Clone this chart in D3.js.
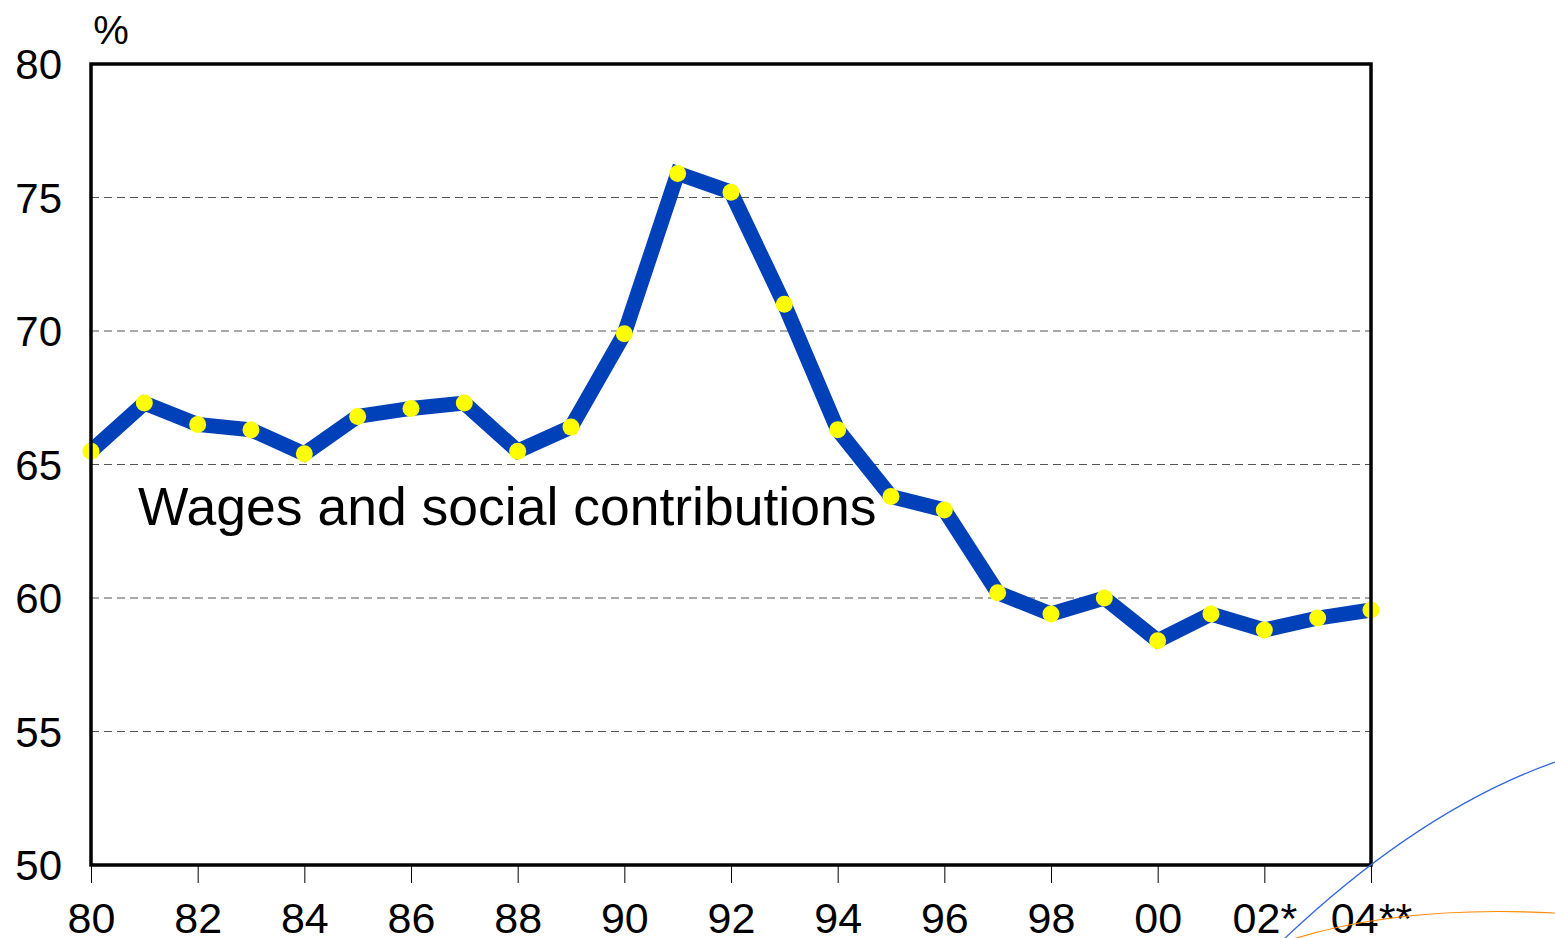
<!DOCTYPE html>
<html>
<head>
<meta charset="utf-8">
<script src="https://cdn.jsdelivr.net/npm/d3@7"></script>
<style>
  body { margin: 0; background: #fff; }
  svg { display: block; font-family: "Liberation Sans", Arial, sans-serif; }
</style>
</head>
<body>
<svg width="1555" height="938"></svg>
<script>
// data
const years = d3.range(1980, 2005);
const wageShare = [65.5, 67.3, 66.5, 66.3, 65.4, 66.8, 67.1, 67.3, 65.5, 66.4,
                   69.9, 75.9, 75.2, 71.0, 66.3, 63.8, 63.3, 60.2, 59.4, 60.0,
                   58.4, 59.4, 58.8, 59.25, 59.55];
const yTicks = [50, 55, 60, 65, 70, 75, 80];
const xTickYears = d3.range(1980, 2005, 2);
const xTickLabels = ["80", "82", "84", "86", "88", "90", "92", "94", "96", "98", "00", "02*", "04**"];
const seriesLabel = "Wages and social contributions";

const margin = { top: 64, left: 91 },
    width = 1280,
    height = 801;

const svg = d3.select("svg");
const g = svg.append("g").attr("transform", "translate(" + margin.left + "," + margin.top + ")");

const x = d3.scaleLinear().domain([1980, 2004]).range([0, width]);
const y = d3.scaleLinear().domain([50, 80]).range([height, 0]);

// dashed gridlines
g.selectAll(".grid")
    .data(yTicks.filter(d => d > 50 && d < 80))
    .enter().append("line")
    .attr("x1", 0).attr("x2", width)
    .attr("y1", d => y(d)).attr("y2", d => y(d))
    .attr("stroke", "#555")
    .attr("stroke-width", 1.2)
    .attr("stroke-dasharray", "8,5");

// y labels
g.selectAll(".ylab")
    .data(yTicks)
    .enter().append("text")
    .attr("x", -29)
    .attr("y", d => y(d))
    .attr("dy", "0.36em")
    .attr("text-anchor", "end")
    .attr("font-size", 42)
    .text(d => d);

g.append("text")
    .attr("x", 20).attr("y", -20)
    .attr("text-anchor", "middle")
    .attr("font-size", 40)
    .text("%");

// x axis ticks and labels
const xAxis = d3.axisBottom(x)
    .tickValues(xTickYears)
    .tickSize(18)
    .tickPadding(19)
    .tickFormat((d, i) => xTickLabels[i]);
const ax = g.append("g")
    .attr("transform", "translate(0," + height + ")")
    .call(xAxis);
ax.select(".domain").remove();
ax.selectAll(".tick line").attr("stroke", "#000").attr("stroke-width", 1);
ax.selectAll(".tick text")
    .attr("font-size", 43)
    .attr("font-family", "Liberation Sans, Arial, sans-serif")
    .attr("fill", "#000");

// series line
const line = d3.line()
    .x((d, i) => x(years[i]))
    .y(d => y(d));
g.append("path")
    .datum(wageShare)
    .attr("fill", "none")
    .attr("stroke", "#0040b9")
    .attr("stroke-width", 15)
    .attr("stroke-linejoin", "miter")
    .attr("d", line);

g.selectAll(".dot")
    .data(wageShare)
    .enter().append("circle")
    .attr("cx", (d, i) => x(years[i]))
    .attr("cy", d => y(d))
    .attr("r", 8.5)
    .attr("fill", "#ffff00");

// series label with white box
const lab = g.append("text")
    .attr("x", 47).attr("y", 461)
    .attr("font-size", 53.5)
    .text(seriesLabel);
const bb = lab.node().getBBox();
g.insert("rect", "text")
    .attr("x", bb.x - 4).attr("y", bb.y + 6)
    .attr("width", bb.width + 6).attr("height", bb.height - 6)
    .attr("fill", "#fff");
lab.raise();

// frame
g.append("rect")
    .attr("x", 0).attr("y", 0)
    .attr("width", width).attr("height", height)
    .attr("fill", "none")
    .attr("stroke", "#000")
    .attr("stroke-width", 3.5);

// decorative swooshes bottom right
svg.append("path")
    .attr("d", "M1283,940 Q1420,810 1555,762")
    .attr("fill", "none")
    .attr("stroke", "#3366dd")
    .attr("stroke-width", 1.2);
svg.append("path")
    .attr("d", "M1290,940 Q1400,905 1555,913")
    .attr("fill", "none")
    .attr("stroke", "#ff8800")
    .attr("stroke-width", 1.2);
</script>
</body>
</html>
